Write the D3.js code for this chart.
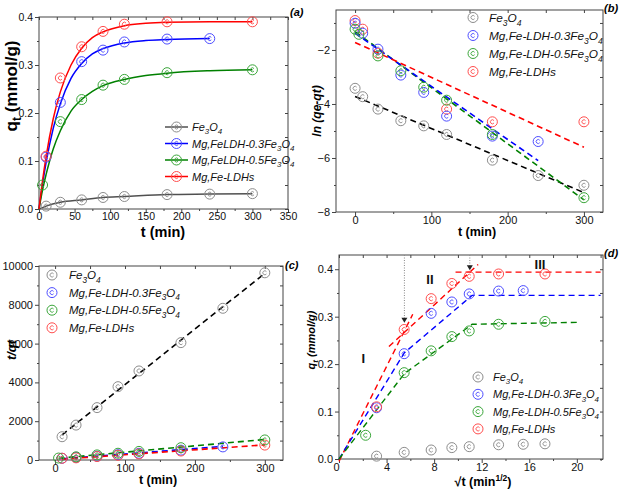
<!DOCTYPE html>
<html><head><meta charset="utf-8">
<script src="https://cdn.jsdelivr.net/npm/d3@7"></script>
<style>
body{margin:0;background:#fff}
svg{display:block;background:#fff}
text{font-family:"Liberation Sans",Arial,sans-serif}
</style>
</head><body>
<svg id="chart" width="620" height="489"></svg>
<script>
// ---------------- DATA ----------------
const seriesNames = ["Fe3O4", "Mg,Fe-LDH-0.3Fe3O4", "Mg,Fe-LDH-0.5Fe3O4", "Mg,Fe-LDHs"];
const seriesNamesA = ["Fe3O4", "Mg,FeLDH-0.3Fe3O4", "Mg,FeLDH-0.5Fe3O4", "Mg,Fe-LDHs"];

// (a) kinetics q_t vs t
const tGray = [10, 30, 60, 90, 120, 180, 240, 300];
const qGray = [0.006, 0.014, 0.019, 0.024, 0.026, 0.030, 0.031, 0.032];
const tBlue = [10, 30, 60, 90, 120, 180, 240];
const qBlue = [0.108, 0.222, 0.307, 0.331, 0.348, 0.354, 0.355];
const tGreen = [5, 30, 60, 90, 120, 180, 300];
const qGreen = [0.050, 0.182, 0.228, 0.258, 0.270, 0.284, 0.290];
const tRed = [10, 30, 60, 90, 120, 180, 300];
const qRed = [0.110, 0.273, 0.338, 0.370, 0.385, 0.390, 0.390];
// fitted curves in (a)
const fitT = [0, 5, 10, 20, 30, 45, 60, 75, 90, 120, 150, 180, 240, 300];
const fitRed = [0, 0.059, 0.109, 0.188, 0.244, 0.300, 0.335, 0.357, 0.369, 0.382, 0.387, 0.389, 0.390, 0.390];
const fitBlueT = [0, 5, 10, 20, 30, 45, 60, 75, 90, 120, 150, 180, 240];
const fitBlue = [0, 0.052, 0.097, 0.168, 0.219, 0.272, 0.303, 0.323, 0.334, 0.346, 0.351, 0.353, 0.355];
const fitGreen = [0, 0.040, 0.072, 0.125, 0.163, 0.204, 0.228, 0.245, 0.257, 0.270, 0.278, 0.283, 0.288, 0.290];
const fitGrayT = [0, 10, 30, 60, 90, 120, 180, 240, 300];
const fitGray = [0, 0.006, 0.014, 0.019, 0.024, 0.026, 0.030, 0.031, 0.032];

// (b) ln(qe-qt) vs t
const bGrayT = [0, 10, 30, 60, 90, 120, 180, 240, 300];
const bGray = [-3.42, -3.73, -4.19, -4.62, -4.81, -5.13, -6.08, -6.65, -7.01];
const bBlueT = [0, 10, 30, 60, 90, 120, 180, 240];
const bBlue = [-1.01, -1.38, -1.97, -2.93, -3.57, -4.45, -5.19, -5.39];
const bGreenT = [0, 5, 30, 60, 90, 120, 180, 300];
const bGreen = [-1.23, -1.42, -2.22, -2.77, -3.38, -3.86, -5.13, -7.47];
const bRedT = [0, 10, 30, 120, 180, 300];
const bRed = [-0.91, -1.23, -2.12, -4.19, -4.66, -4.66];
const bFitGrayT = [0, 300], bFitGray = [-3.72, -7.28];
const bFitBlueT = [0, 240], bFitBlue = [-1.38, -6.10];
const bFitGreenT = [0, 300], bFitGreen = [-1.32, -7.55];
const bFitRedT = [0, 300], bFitRed = [-1.72, -5.60];

// (c) t/qt vs t
const cGray = [1200, 1800, 2700, 3780, 4590, 6050, 7820, 9650];
const cBlue = [90, 135, 195, 272, 345, 508, 676];
const cGreen = [100, 165, 263, 349, 444, 634, 1034];
const cRed = [91, 110, 178, 243, 312, 462, 769];
const cFitGrayT = [10, 300], cFitGray = [1300, 9620];
const cFitBlueT = [10, 240], cFitBlue = [60, 700];
const cFitGreenT = [5, 300], cFitGreen = [90, 1060];
const cFitRedT = [10, 300], cFitRed = [40, 780];

// (d) q_t vs sqrt(t)
const rtGray = [3.16, 5.48, 7.75, 9.49, 10.95, 13.42, 15.49, 17.32];
const rtBlue = [3.16, 5.48, 7.75, 9.49, 10.95, 13.42, 15.49];
const rtGreen = [2.24, 5.48, 7.75, 9.49, 10.95, 13.42, 17.32];
const rtRed = [3.16, 5.48, 7.75, 9.49, 10.95, 13.42, 17.32];
const dRedSeg1 = [[0, -0.005], [6.2, 0.305]];
const dRedSeg2 = [[4.2, 0.237], [11.7, 0.41]];
const dRedSeg3 = [[9.8, 0.394], [22, 0.394]];
const dBlueFit = [[0, 0], [5.5, 0.224], [11.2, 0.345], [22, 0.345]];
const dGreenFit = [[0, 0], [5.5, 0.18], [11.2, 0.284], [20, 0.288]];
const dArrows = [[5.5, 0.287], [11.0, 0.398]];
const dStages = [["I", 2.04, 0.202], ["II", 7.65, 0.369], ["III", 16.9, 0.40]];

// ---------------- STYLE ----------------
const symColor = ["#8c8c8c", "#4d4dff", "#3aa63a", "#ff4d4d"];
const lineColor = ["#505050", "#0000ff", "#008000", "#ff0000"];
const dashColor = ["#000000", "#0000ff", "#008000", "#ff0000"];

const svg = d3.select("#chart");
const zip = (a, b) => a.map((v, i) => [v, b[i]]);

function rich(textSel, str, fs) {
  const re = /(Fe|O)(\d)/g;
  let last = 0, m, pendingDy = 0;
  const add = (s, sub) => {
    const ts = textSel.append("tspan").text(s);
    if (sub) { ts.attr("dy", fs * 0.3).attr("font-size", fs * 0.72); pendingDy = -fs * 0.3; }
    else if (pendingDy) { ts.attr("dy", pendingDy); pendingDy = 0; }
  };
  while ((m = re.exec(str))) {
    add(str.slice(last, m.index) + m[1], false);
    add(m[2], true);
    last = re.lastIndex;
  }
  if (last < str.length) add(str.slice(last), false);
}

function makePanel(o) {
  const x = d3.scaleLinear().domain(o.xd).range([o.l, o.r]);
  const y = d3.scaleLinear().domain(o.yd).range([o.b, o.t]);
  const g = svg.append("g");
  const ax = g.append("g");
  const fmtX = o.xf || d3.format("d"), fmtY = o.yf || d3.format("d");
  ax.append("g").attr("transform", `translate(0,${o.b})`)
    .call(d3.axisBottom(x).tickValues(o.xt).tickSize(4).tickPadding(0).tickFormat(fmtX));
  ax.append("g").attr("transform", `translate(0,${o.b})`)
    .call(d3.axisBottom(x).tickValues(o.xm).tickSize(2).tickFormat(""));
  ax.append("g").attr("transform", `translate(${o.l},0)`)
    .call(d3.axisLeft(y).tickValues(o.yt).tickSize(4).tickPadding(2).tickFormat(fmtY));
  ax.append("g").attr("transform", `translate(${o.l},0)`)
    .call(d3.axisLeft(y).tickValues(o.ym).tickSize(2).tickFormat(""));
  ax.append("g").attr("transform", `translate(0,${o.t})`)
    .call(d3.axisTop(x).tickValues(o.xt.concat(o.xm)).tickSize(-3).tickFormat(""));
  ax.append("g").attr("transform", `translate(${o.r},0)`)
    .call(d3.axisRight(y).tickValues(o.yt.concat(o.ym)).tickSize(-3).tickFormat(""));
  ax.selectAll(".domain").remove();
  ax.selectAll(".tick line").attr("stroke", "#444");
  ax.selectAll(".tick text").attr("font-size", o.tfs || 11).attr("fill", "#111")
    .attr("font-family", '"Liberation Sans",Arial,sans-serif');
  g.append("rect").attr("x", o.l).attr("y", o.t).attr("width", o.r - o.l).attr("height", o.b - o.t)
    .attr("fill", "none").attr("stroke", "#444").attr("stroke-width", 1);
  return { g, x, y };
}

function symbol(g, cx, cy, color) {
  const s = g.append("g").attr("transform", `translate(${cx},${cy})`);
  s.append("circle").attr("r", 5).attr("fill", "none").attr("stroke", color).attr("stroke-width", 1);
  s.append("path").attr("d", "M1.6,-1.2 A2,2 0 1 0 1.6,1.2").attr("fill", "none")
    .attr("stroke", color).attr("stroke-width", 0.9);
}

function points(p, xs, ys, color) {
  xs.forEach((v, i) => symbol(p.g, p.x(v), p.y(ys[i]), color));
}

function dashLine(p, pts, color, w) {
  p.g.append("path").datum(pts)
    .attr("d", d3.line().x(d => p.x(d[0])).y(d => p.y(d[1])))
    .attr("fill", "none").attr("stroke", color).attr("stroke-width", w || 1.6)
    .attr("stroke-dasharray", "6,4");
}

function title(x, y, str, fs, opts) {
  const t = svg.append("text").attr("font-size", fs).attr("font-weight", "bold")
    .attr("text-anchor", (opts && opts.anchor) || "middle");
  if (opts && opts.italic) t.attr("font-style", "italic");
  if (opts && opts.rot) t.attr("transform", `translate(${x},${y}) rotate(-90)`);
  else t.attr("x", x).attr("y", y);
  return t;
}

// ---------------- PANEL (a) ----------------
const pa = makePanel({ l: 39, r: 288, t: 17, b: 209, xd: [0, 350], yd: [0, 0.4], tfs: 10.5,
  xt: d3.range(0, 351, 50), xm: d3.range(25, 350, 50),
  yt: [0, 0.1, 0.2, 0.3, 0.4], ym: [0.05, 0.15, 0.25, 0.35], yf: d3.format(".1f") });
const aLine = d3.line().x(d => pa.x(d[0])).y(d => pa.y(d[1])).curve(d3.curveMonotoneX);
[[fitGrayT, fitGray], [fitBlueT, fitBlue], [fitT, fitGreen], [fitT, fitRed]].forEach((s, i) => {
  pa.g.append("path").datum(zip(s[0], s[1])).attr("d", aLine).attr("fill", "none")
    .attr("stroke", lineColor[i]).attr("stroke-width", 1.5);
});
points(pa, tGray, qGray, symColor[0]);
points(pa, tGreen, qGreen, symColor[2]);
points(pa, tBlue, qBlue, symColor[1]);
points(pa, tRed, qRed, symColor[3]);
seriesNamesA.forEach((n, i) => {
  const yy = 127 + i * 16.5;
  pa.g.append("line").attr("x1", 165).attr("x2", 188).attr("y1", yy).attr("y2", yy)
    .attr("stroke", lineColor[i]).attr("stroke-width", 1.5);
  symbol(pa.g, 176.5, yy, symColor[i]);
  const t = pa.g.append("text").attr("x", 192).attr("y", yy + 4).attr("font-size", 11)
    .attr("font-style", "italic").attr("fill", "#111");
  rich(t, n, 11);
});
{ const t = title(17, 86, "", 17, { rot: true }); t.append("tspan").text("q");
  t.append("tspan").attr("dy", 4).attr("font-size", 12).text("t");
  t.append("tspan").attr("dy", -4).text(" (mmol/g)"); }
title(163, 237, "", 14.5).text("t (min)");
title(290, 16, "", 11, { italic: true, anchor: "start" }).text("(a)");

// ---------------- PANEL (b) ----------------
const pb = makePanel({ l: 336, r: 603, t: 10, b: 212, xd: [-25, 325], yd: [-8, -0.52],
  xt: [0, 100, 200, 300], xm: [50, 150, 250], yt: [-8, -6, -4, -2], ym: [-7, -5, -3, -1] });
dashLine(pb, zip(bFitGrayT, bFitGray), dashColor[0]);
dashLine(pb, zip(bFitGreenT, bFitGreen), dashColor[2]);
dashLine(pb, zip(bFitBlueT, bFitBlue), dashColor[1]);
dashLine(pb, zip(bFitRedT, bFitRed), dashColor[3]);
points(pb, bGrayT, bGray, symColor[0]);
points(pb, bRedT, bRed, symColor[3]);
points(pb, bBlueT, bBlue, symColor[1]);
points(pb, bGreenT, bGreen, symColor[2]);
seriesNames.forEach((n, i) => {
  const yy = 17.5 + i * 18;
  symbol(pb.g, 473, yy, symColor[i]);
  const t = pb.g.append("text").attr("x", 489).attr("y", yy + 4.5).attr("font-size", 11.8)
    .attr("font-style", "italic").attr("fill", "#111");
  rich(t, n, 11.8);
});
title(321, 111, "", 12, { rot: true, italic: true }).text("ln (qe-qt)");
title(477, 236, "", 12.5).text("t (min)");
title(604, 12, "", 11, { italic: true, anchor: "start" }).text("(b)");

// ---------------- PANEL (c) ----------------
const pc = makePanel({ l: 39, r: 283, t: 266, b: 460, xd: [-23, 326], yd: [0, 10000],
  xt: [0, 100, 200, 300], xm: [50, 150, 250], yt: d3.range(0, 10001, 2000), ym: d3.range(1000, 10000, 2000) });
dashLine(pc, zip(cFitGrayT, cFitGray), dashColor[0]);
dashLine(pc, zip(cFitBlueT, cFitBlue), dashColor[1]);
dashLine(pc, zip(cFitRedT, cFitRed), dashColor[3]);
dashLine(pc, zip(cFitGreenT, cFitGreen), dashColor[2]);
points(pc, tGray, cGray, symColor[0]);
points(pc, tBlue, cBlue, symColor[1]);
points(pc, tRed, cRed, symColor[3]);
points(pc, tGreen, cGreen, symColor[2]);
seriesNames.forEach((n, i) => {
  const yy = 275 + i * 17.6;
  symbol(pc.g, 52, yy, symColor[i]);
  const t = pc.g.append("text").attr("x", 69).attr("y", yy + 4.2).attr("font-size", 11.5)
    .attr("font-style", "italic").attr("fill", "#111");
  rich(t, n, 11.5);
});
title(16, 350, "", 13, { rot: true, italic: true }).text("t/qt");
title(158, 484, "", 12.5).text("t (min)");
title(285, 269, "", 11, { italic: true, anchor: "start" }).text("(c)");

// ---------------- PANEL (d) ----------------
const pd = makePanel({ l: 339, r: 603, t: 255, b: 459, xd: [0, 22.2], yd: [0, 0.43],
  xt: [0, 4, 8, 12, 16, 20], xm: [2, 6, 10, 14, 18, 22],
  yt: [0, 0.1, 0.2, 0.3, 0.4], ym: [0.05, 0.15, 0.25, 0.35], yf: d3.format(".1f") });
pd.g.selectAll(".tick text").filter(function(){ return this.textContent === "0"; }).attr("dx", -3);
dashLine(pd, dRedSeg1, dashColor[3], 1.4);
dashLine(pd, dRedSeg2, dashColor[3], 1.4);
dashLine(pd, dRedSeg3, dashColor[3], 1.4);
dashLine(pd, dBlueFit, dashColor[1], 1.4);
dashLine(pd, dGreenFit, dashColor[2], 1.4);
dArrows.forEach(a => {
  const ax = pd.x(a[0]), ay = pd.y(a[1]);
  pd.g.append("line").attr("x1", ax).attr("x2", ax).attr("y1", pd.y(0.43)).attr("y2", ay - 3)
    .attr("stroke", "#888").attr("stroke-width", 1).attr("stroke-dasharray", "1,1.5");
  pd.g.append("path").attr("d", `M${ax - 3},${ay - 5}L${ax + 3},${ay - 5}L${ax},${ay}Z`).attr("fill", "#222");
});
points(pd, rtGray, qGray, symColor[0]);
points(pd, rtGreen, qGreen, symColor[2]);
points(pd, rtBlue, qBlue, symColor[1]);
points(pd, rtRed, qRed, symColor[3]);
dStages.forEach(s => {
  pd.g.append("text").attr("x", pd.x(s[1])).attr("y", pd.y(s[2])).attr("text-anchor", "middle")
    .attr("font-size", 13).attr("font-weight", "bold").attr("fill", "#111").text(s[0]);
});
seriesNames.forEach((n, i) => {
  const yy = 377 + i * 17.3;
  symbol(pd.g, 478, yy, symColor[i]);
  const t = pd.g.append("text").attr("x", 493).attr("y", yy + 4).attr("font-size", 11)
    .attr("font-style", "italic").attr("fill", "#111");
  rich(t, n, 11);
});
{ const t = title(315, 340, "", 11, { rot: true, italic: true }); t.append("tspan").text("q");
  t.append("tspan").attr("dy", 3).attr("font-size", 8).text("t");
  t.append("tspan").attr("dy", -3).text(" (mmol/g)"); }
{ const t = title(483, 486, "", 12.5); t.append("tspan").text("\u221At (min");
  t.append("tspan").attr("dy", -5).attr("font-size", 8.5).text("1/2");
  t.append("tspan").attr("dy", 5).text(")"); }
title(604, 257, "", 11, { italic: true, anchor: "start" }).text("(d)");
</script>
</body></html>
